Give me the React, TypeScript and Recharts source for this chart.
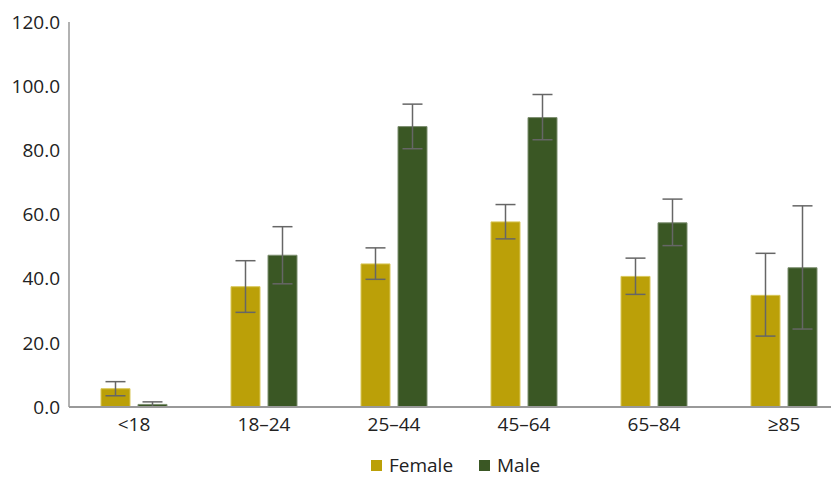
import { BarChart, Bar, XAxis, YAxis, ErrorBar, Legend } from 'recharts'

const categories = ['<18', '18–24', '25–44', '45–64', '65–84', '≥85']
const femaleValues = [5.7, 37.5, 44.6, 57.7, 40.7, 34.8]
const femaleLow = [3.5, 29.5, 39.8, 52.4, 35.1, 22.1]
const femaleHigh = [7.9, 45.6, 49.6, 63.1, 46.4, 47.9]
const maleValues = [0.8, 47.3, 87.4, 90.2, 57.4, 43.4]
const maleLow = [0.1, 38.4, 80.5, 83.3, 50.3, 24.3]
const maleHigh = [1.6, 56.2, 94.4, 97.4, 64.8, 62.7]
const yTicks = [0, 20, 40, 60, 80, 100, 120]

const FEMALE = '#BBA008'
const MALE = '#3A5724'
const FONT = '"Open Sans", sans-serif'

const data = categories.map((name, i) => ({
  name,
  female: femaleValues[i],
  femaleErr: [femaleValues[i] - femaleLow[i], femaleHigh[i] - femaleValues[i]],
  male: maleValues[i],
  maleErr: [maleValues[i] - maleLow[i], maleHigh[i] - maleValues[i]],
}))

function LegendContent() {
  const items = [
    { label: 'Female', color: FEMALE, width: 108 },
    { label: 'Male', color: MALE, width: 80 },
  ]
  return (
    <div style={{ display: 'flex', alignItems: 'center', height: 24, paddingLeft: 363, fontFamily: FONT, fontSize: 19, color: '#222' }}>
      {items.map((it) => (
        <div key={it.label} style={{ display: 'flex', alignItems: 'center', width: it.width }}>
          <span style={{ display: 'inline-block', width: 11, height: 11, background: it.color, marginRight: 7 }} />
          <span>{it.label}</span>
        </div>
      ))}
    </div>
  )
}

export default function App() {
  return (
    <div style={{ width: 831, height: 469, overflow: 'hidden' }}>
      <BarChart
        width={845}
        height={469}
        data={data}
        margin={{ top: 14, right: 4, bottom: 0, left: 0 }}
        barCategoryGap={32}
        barGap={8}
      >
        <XAxis
          dataKey="name"
          tickLine={false}
          axisLine={{ stroke: '#999', strokeWidth: 2 }}
          tick={{ fontFamily: FONT, fontSize: 19, fill: '#222' }}
          tickMargin={5}
          height={46}
        />
        <YAxis
          domain={[0, 120]}
          ticks={yTicks}
          tickFormatter={(v: number) => v.toFixed(1)}
          tickLine={false}
          axisLine={{ stroke: '#999', strokeWidth: 1.5 }}
          tick={{ fontFamily: FONT, fontSize: 19, fill: '#222' }}
          tickMargin={3}
          width={61}
        />
        <Legend verticalAlign="bottom" content={() => <LegendContent />} />
        <Bar dataKey="female" name="Female" fill={FEMALE} stroke="#d9c75a" strokeWidth={1} isAnimationActive={false}>
          <ErrorBar dataKey="femaleErr" width={10} stroke="#666" strokeWidth={1.5} />
        </Bar>
        <Bar dataKey="male" name="Male" fill={MALE} stroke="#7d8f70" strokeWidth={1} isAnimationActive={false}>
          <ErrorBar dataKey="maleErr" width={10} stroke="#666" strokeWidth={1.5} />
        </Bar>
      </BarChart>
    </div>
  )
}
